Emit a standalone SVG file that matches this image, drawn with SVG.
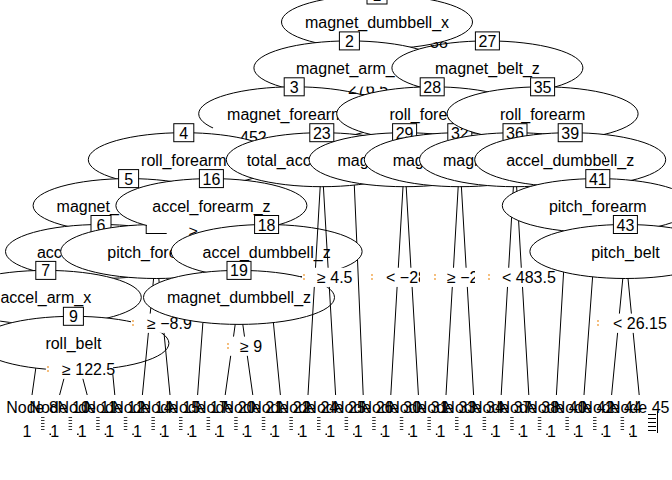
<svg xmlns="http://www.w3.org/2000/svg" width="672" height="480" viewBox="0 0 672 480">
<style>
.e{fill:#fff;stroke:#000;stroke-width:1}
.b{fill:#fff;stroke:#000;stroke-width:1}
.t{font-family:"Liberation Sans",Arial,sans-serif;font-size:16px;fill:#000}
.m{text-anchor:middle}
.w{fill:#fff}
.o{fill:#f0a040}
.c path{stroke:#000;stroke-width:1;fill:none}
</style>
<defs>
<clipPath id="c38"><rect x="420" y="42" width="40" height="10"/></clipPath>
<clipPath id="c276"><rect x="340" y="86.5" width="60" height="12"/></clipPath>
<g id="ticks"><path d="M0 .5h3.5M0 3.5h3.5M0 6.5h3.5M0 9.5h3.5M0 12.5h3.5" stroke="#333" stroke-width="1"/><rect x="8.5" y="16.5" width="1.5" height="1.5" fill="#000"/></g>
</defs>
<rect width="672" height="480" fill="#fff"/>
<g id="nodes">
<g id="node1"><ellipse class="e" cx="377" cy="22" rx="95.5" ry="27"/><text class="t m" x="377" y="28">magnet_dumbbell_x</text><rect class="b" x="367" y="-14" width="20" height="18"/><text class="t m" x="377" y="1">1</text></g>
<g id="node2"><ellipse class="e" cx="349.4" cy="67.9" rx="95.5" ry="27"/><text class="t m" x="349.4" y="73.9">magnet_arm_x</text><rect class="b" x="339.4" y="31.9" width="20" height="18"/><text class="t m" x="349.4" y="46.9">2</text></g>
<g id="node3"><ellipse class="e" cx="294.2" cy="113.8" rx="95.5" ry="27"/><text class="t m" x="294.2" y="119.8">magnet_forearm_x</text><rect class="b" x="284.2" y="77.8" width="20" height="18"/><text class="t m" x="294.2" y="92.8">3</text></g>
<g id="node4"><rect class="w" x="213" y="127.2" width="54" height="19.2"/><text class="t" x="240" y="142.5">452</text><ellipse class="e" cx="183.8" cy="159.7" rx="95.5" ry="27"/><text class="t m" x="183.8" y="165.7">roll_forearm</text><rect class="b" x="173.8" y="123.7" width="20" height="18"/><text class="t m" x="183.8" y="138.7">4</text></g>
<g id="node5"><ellipse class="e" cx="128.6" cy="205.6" rx="95.5" ry="27"/><text class="t m" x="128.6" y="211.6">magnet_dumbbell_y</text><rect class="b" x="118.6" y="169.6" width="20" height="18"/><text class="t m" x="128.6" y="184.6">5</text></g>
<g id="node6"><ellipse class="e" cx="101" cy="251.5" rx="95.5" ry="27"/><text class="t m" x="101" y="257.5">accel_dumbbell_x</text><rect class="b" x="91" y="215.5" width="20" height="18"/><text class="t m" x="101" y="230.5">6</text></g>
<g id="node7"><ellipse class="e" cx="45.8" cy="297.4" rx="95.5" ry="27"/><text class="t m" x="45.8" y="303.4">accel_arm_x</text><rect class="b" x="35.8" y="261.4" width="20" height="18"/><text class="t m" x="45.8" y="276.4">7</text></g>
<g id="node8"><text class="t m" x="32" y="413">Node 8</text><text class="t m" x="27" y="437">1</text><use href="#ticks" x="41" y="417"/></g>
<g id="node9"><ellipse class="e" cx="73.4" cy="343.3" rx="95.5" ry="27"/><text class="t m" x="73.4" y="349.3">roll_belt</text><rect class="b" x="63.4" y="307.3" width="20" height="18"/><text class="t m" x="73.4" y="322.3">9</text></g>
<g id="node10"><text class="t m" x="59.6" y="413">Node 10</text><text class="t m" x="54.6" y="437">1</text><use href="#ticks" x="68.6" y="417"/></g>
<g id="node11"><rect class="w" x="46" y="359.6" width="67" height="19.2"/><circle class="o" cx="48" cy="367" r="0.9"/><circle class="o" cx="48" cy="371" r="0.9"/><text class="t" x="62" y="375">≥ 122.5</text><text class="t m" x="87.2" y="413">Node 11</text><text class="t m" x="82.2" y="437">1</text><use href="#ticks" x="96.2" y="417"/></g>
<g id="node12"><text class="t m" x="114.8" y="413">Node 12</text><text class="t m" x="109.8" y="437">1</text><use href="#ticks" x="123.8" y="417"/></g>
<g id="node13"><ellipse class="e" cx="156.2" cy="251.5" rx="95.5" ry="27"/><text class="t m" x="156.2" y="257.5">pitch_forearm</text><rect class="b" x="146.2" y="215.5" width="20" height="18"/><text class="t m" x="156.2" y="230.5">13</text></g>
<g id="node14"><text class="t m" x="142.4" y="413">Node 14</text><text class="t m" x="137.4" y="437">1</text><use href="#ticks" x="151.4" y="417"/></g>
<g id="node15"><rect class="w" x="131" y="313.6" width="63" height="19.2"/><circle class="o" cx="133" cy="321" r="0.9"/><circle class="o" cx="133" cy="325" r="0.9"/><text class="t" x="147" y="329">≥ −8.9</text><text class="t m" x="170" y="413">Node 15</text><text class="t m" x="165" y="437">1</text><use href="#ticks" x="179" y="417"/></g>
<g id="node16"><ellipse class="e" cx="211.4" cy="205.6" rx="95.5" ry="27"/><text class="t m" x="211.4" y="211.6">accel_forearm_z</text><rect class="b" x="199.4" y="169.6" width="24" height="18"/><text class="t m" x="211.4" y="184.6">16</text></g>
<g id="node17"><text class="t m" x="197.6" y="413">Node 17</text><text class="t m" x="192.6" y="437">1</text><use href="#ticks" x="206.6" y="417"/></g>
<g id="node18"><rect class="w" x="147" y="219" width="58" height="14"/><rect class="w" x="177" y="219" width="28" height="18"/><text class="t" x="189" y="237">≥</text><ellipse class="e" cx="266.6" cy="251.5" rx="95.5" ry="27"/><text class="t m" x="266.6" y="257.5">accel_dumbbell_z</text><rect class="b" x="254.6" y="215.5" width="24" height="18"/><text class="t m" x="266.6" y="230.5">18</text></g>
<g id="node19"><ellipse class="e" cx="239" cy="297.4" rx="95.5" ry="27"/><text class="t m" x="239" y="303.4">magnet_dumbbell_z</text><rect class="b" x="227" y="261.4" width="24" height="18"/><text class="t m" x="239" y="276.4">19</text></g>
<g id="node20"><text class="t m" x="225.2" y="413">Node 20</text><text class="t m" x="220.2" y="437">1</text><use href="#ticks" x="234.2" y="417"/></g>
<g id="node21"><rect class="w" x="226" y="336.6" width="39" height="19.2"/><circle class="o" cx="228" cy="344" r="0.9"/><circle class="o" cx="228" cy="348" r="0.9"/><text class="t" x="240" y="352">≥ 9</text><text class="t m" x="252.8" y="413">Node 21</text><text class="t m" x="247.8" y="437">1</text><use href="#ticks" x="261.8" y="417"/></g>
<g id="node22"><text class="t m" x="280.4" y="413">Node 22</text><text class="t m" x="275.4" y="437">1</text><use href="#ticks" x="289.4" y="417"/></g>
<g id="node23"><ellipse class="e" cx="321.8" cy="159.7" rx="95.5" ry="27"/><text class="t m" x="321.8" y="165.7">total_accel_dumbbell</text><rect class="b" x="309.8" y="123.7" width="24" height="18"/><text class="t m" x="321.8" y="138.7">23</text></g>
<g id="node24"><text class="t m" x="308" y="413">Node 24</text><text class="t m" x="303" y="437">1</text><use href="#ticks" x="317" y="417"/></g>
<g id="node25"><rect class="w" x="302" y="267.75" width="51" height="19.2"/><circle class="o" cx="304" cy="275" r="0.9"/><circle class="o" cx="304" cy="279" r="0.9"/><text class="t" x="317" y="283">≥ 4.5</text><text class="t m" x="335.6" y="413">Node 25</text><text class="t m" x="330.6" y="437">1</text><use href="#ticks" x="344.6" y="417"/></g>
<g id="node26"><text class="t" x="348" y="94" clip-path="url(#c276)">276.5</text><text class="t m" x="363.2" y="413">Node 26</text><text class="t m" x="358.2" y="437">1</text><use href="#ticks" x="372.2" y="417"/></g>
<g id="node27"><ellipse class="e" cx="487.4" cy="67.9" rx="95.5" ry="27"/><text class="t m" x="487.4" y="73.9">magnet_belt_z</text><rect class="b" x="475.4" y="31.9" width="24" height="18"/><text class="t m" x="487.4" y="46.9">27</text><text class="t" x="430" y="47.5" clip-path="url(#c38)">38</text></g>
<g id="node28"><ellipse class="e" cx="432.2" cy="113.8" rx="95.5" ry="27"/><text class="t m" x="432.2" y="119.8">roll_forearm</text><rect class="b" x="420.2" y="77.8" width="24" height="18"/><text class="t m" x="432.2" y="92.8">28</text></g>
<g id="node29"><ellipse class="e" cx="404.6" cy="159.7" rx="95.5" ry="27"/><text class="t m" x="404.6" y="165.7">magnet_forearm_y</text><rect class="b" x="392.6" y="123.7" width="24" height="18"/><text class="t m" x="404.6" y="138.7">29</text></g>
<g id="node30"><text class="t m" x="390.8" y="413">Node 30</text><text class="t m" x="385.8" y="437">1</text><use href="#ticks" x="399.8" y="417"/></g>
<g id="node31"><rect class="w" x="370" y="267.75" width="75" height="19.2"/><circle class="o" cx="372" cy="275" r="0.9"/><circle class="o" cx="372" cy="279" r="0.9"/><text class="t" x="386" y="283">&lt; −28</text><text class="t m" x="418.4" y="413">Node 31</text><text class="t m" x="413.4" y="437">1</text><use href="#ticks" x="427.4" y="417"/></g>
<g id="node32"><ellipse class="e" cx="459.8" cy="159.7" rx="95.5" ry="27"/><text class="t m" x="459.8" y="165.7">magnet_forearm_z</text><rect class="b" x="447.8" y="123.7" width="24" height="18"/><text class="t m" x="459.8" y="138.7">32</text></g>
<g id="node33"><rect class="w" x="420" y="267.75" width="66" height="19.2"/><text class="t m" x="446" y="413">Node 33</text><text class="t m" x="441" y="437">1</text><use href="#ticks" x="455" y="417"/></g>
<g id="node34"><rect class="w" x="433" y="267.75" width="66" height="19.2"/><circle class="o" cx="435" cy="275" r="0.9"/><circle class="o" cx="435" cy="279" r="0.9"/><text class="t" x="447" y="283">≥ −2</text><text class="t m" x="473.6" y="413">Node 34</text><text class="t m" x="468.6" y="437">1</text><use href="#ticks" x="482.6" y="417"/></g>
<g id="node35"><ellipse class="e" cx="542.6" cy="113.8" rx="95.5" ry="27"/><text class="t m" x="542.6" y="119.8">roll_forearm</text><rect class="b" x="530.6" y="77.8" width="24" height="18"/><text class="t m" x="542.6" y="92.8">35</text></g>
<g id="node36"><ellipse class="e" cx="515" cy="159.7" rx="95.5" ry="27"/><text class="t m" x="515" y="165.7">magnet_dumbbell_y</text><rect class="b" x="503" y="123.7" width="24" height="18"/><text class="t m" x="515" y="138.7">36</text></g>
<g id="node37"><rect class="w" x="475" y="267.75" width="66" height="19.2"/><text class="t m" x="501.2" y="413">Node 37</text><text class="t m" x="496.2" y="437">1</text><use href="#ticks" x="510.2" y="417"/></g>
<g id="node38"><rect class="w" x="487" y="267.75" width="68" height="19.2"/><circle class="o" cx="489" cy="275" r="0.9"/><circle class="o" cx="489" cy="279" r="0.9"/><text class="t" x="502" y="283">&lt; 483.5</text><text class="t m" x="528.8" y="413">Node 38</text><text class="t m" x="523.8" y="437">1</text><use href="#ticks" x="537.8" y="417"/></g>
<g id="node39"><ellipse class="e" cx="570.2" cy="159.7" rx="95.5" ry="27"/><text class="t m" x="570.2" y="165.7">accel_dumbbell_z</text><rect class="b" x="558.2" y="123.7" width="24" height="18"/><text class="t m" x="570.2" y="138.7">39</text></g>
<g id="node40"><text class="t m" x="556.4" y="413">Node 40</text><text class="t m" x="551.4" y="437">1</text><use href="#ticks" x="565.4" y="417"/></g>
<g id="node41"><ellipse class="e" cx="597.8" cy="205.6" rx="95.5" ry="27"/><text class="t m" x="597.8" y="211.6">pitch_forearm</text><rect class="b" x="585.8" y="169.6" width="24" height="18"/><text class="t m" x="597.8" y="184.6">41</text></g>
<g id="node42"><text class="t m" x="584" y="413">Node 42</text><text class="t m" x="579" y="437">1</text><use href="#ticks" x="593" y="417"/></g>
<g id="node43"><ellipse class="e" cx="625.4" cy="251.5" rx="95.5" ry="27"/><text class="t m" x="625.4" y="257.5">pitch_belt</text><rect class="b" x="613.4" y="215.5" width="24" height="18"/><text class="t m" x="625.4" y="230.5">43</text></g>
<g id="node44"><text class="t m" x="611.6" y="413">Node 44</text><text class="t m" x="606.6" y="437">1</text><use href="#ticks" x="620.6" y="417"/></g>
<g id="node45"><rect class="w" x="596" y="313.6" width="69" height="19.2"/><circle class="o" cx="598" cy="321" r="0.9"/><circle class="o" cx="598" cy="325" r="0.9"/><text class="t" x="613" y="329">&lt; 26.15</text><text class="t m" x="639.2" y="413">Node 45</text><text class="t m" x="633.2" y="437">1</text><path d="M648 414.5h8M648 418.5h8M648 422.5h8M648 426.5h8M648 430.5h8M657.5 411v22" stroke="#000" stroke-width="1" fill="none"/></g>
</g>
<g id="connectors" class="c">
<path d="M35.8 368.1L32 395"/>
<path d="M63.9 378.8L59.6 395"/>
<path d="M82.9 378.8L87.2 395"/>
<path d="M112.8 374.2L114.8 395"/>
<path d="M153.6 278.5L152.9 285.7M150.8 307.8L150.2 313.6M148.4 332.9L142.4 395"/>
<path d="M158.8 278.5L159.2 282.6M164 332.9L170 395"/>
<path d="M202.9 322.4L197.6 395"/>
<path d="M235.2 324.4L233.5 336.6M230.7 355.8L225.2 395"/>
<path d="M242.8 324.4L244.5 336.6M247.3 355.8L252.8 395"/>
<path d="M273.4 322.6L280.4 395"/>
<path d="M320.2 186.7L315.5 267.75M314.3 286.95L308 395"/>
<path d="M323.4 186.7L328.1 267.75M329.3 286.95L335.6 395"/>
<path d="M354.3 185.1L356.8 242.6M357.5 259.7L363.2 395"/>
<path d="M403 186.7L398.3 267.75M397.1 286.95L390.8 395"/>
<path d="M406.2 186.7L410.9 267.75M412.1 286.95L418.4 395"/>
<path d="M458.2 186.7L453.5 267.75M452.3 286.95L446 395"/>
<path d="M461.4 186.7L466.1 267.75M467.3 286.95L473.6 395"/>
<path d="M513.4 186.7L513 193.2M511.6 217.2L508.7 267.75M507.5 286.95L501.2 395"/>
<path d="M516.6 186.7L516.9 191.3M518.6 220.7L521.3 267.75M522.5 286.95L528.8 395"/>
<path d="M563.6 272.1L556.4 395"/>
<path d="M592.6 276.9L584 395"/>
<path d="M622.8 278.5L619.4 313.6M617.6 332.9L611.6 395"/>
<path d="M628 278.5L631.4 313.6M633.2 332.9L639.2 395"/>
</g>
</svg>
